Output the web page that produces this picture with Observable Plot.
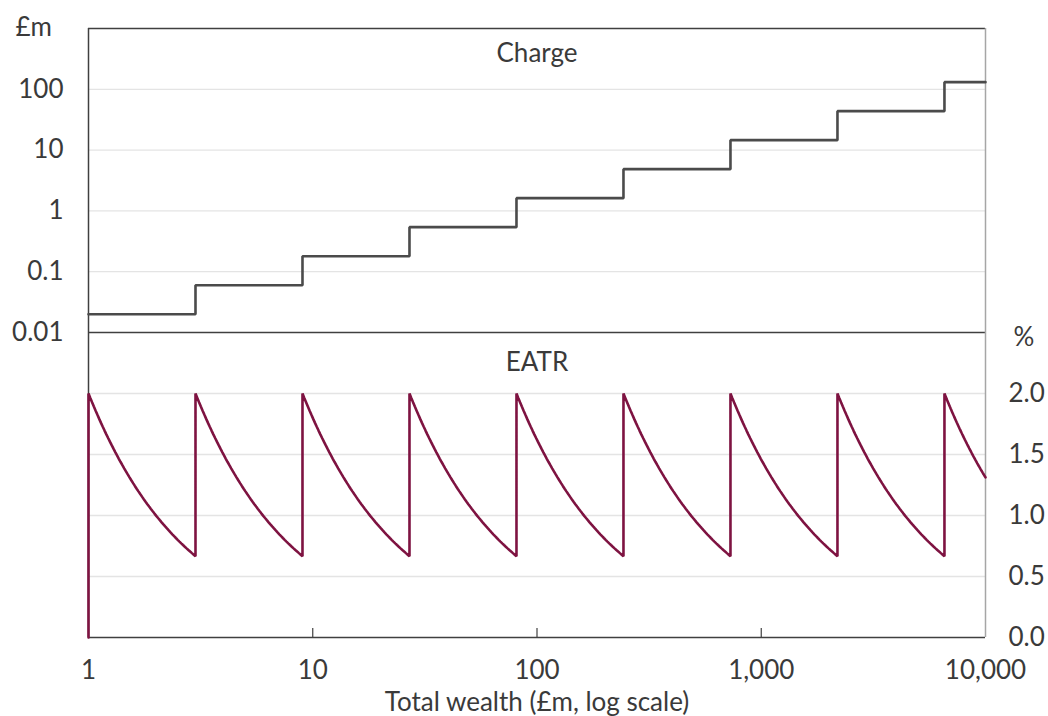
<!DOCTYPE html>
<html>
<head>
<meta charset="utf-8">
<script src="https://cdn.jsdelivr.net/npm/d3@7"></script>
<script src="https://cdn.jsdelivr.net/npm/@observablehq/plot@0.6"></script>
<style>
  html, body { margin: 0; padding: 0; background: #ffffff; }
  #chart { position: relative; width: 1048px; height: 716px; }
  #chart svg { position: absolute; left: 0; top: 0; }
</style>
</head>
<body>
<div id="chart"></div>
<script>
// Wealth bands (£m): each band starts at this wealth level
const bandFloor = [1, 3, 9, 27, 81, 243, 729, 2187, 6561];
// Annual charge (£m) payable within each band
const bandCharge = [0.02, 0.06, 0.18, 0.54, 1.62, 4.86, 14.58, 43.74, 131.22];
const wealthMax = 10000;

const xTicks = [1, 10, 100, 1000, 10000];
const chargeTicks = [0.01, 0.1, 1, 10, 100];
const chargeTickLabels = ["0.01", "0.1", "1", "10", "100"];
const eatrTicks = [0, 0.5, 1, 1.5, 2];

// Charge: flat within each band, stepping up at each band floor
const chargeRows = bandFloor.map((w, i) => ({wealth: w, charge: bandCharge[i]}));
chargeRows.push({wealth: wealthMax, charge: bandCharge[bandCharge.length - 1]});

// EATR (%) = charge ÷ wealth, traced across each band
const eatrRows = [{wealth: 1, eatr: 0}];
bandFloor.forEach((lo, i) => {
  const hi = Math.min(i + 1 < bandFloor.length ? bandFloor[i + 1] : wealthMax, wealthMax);
  const steps = 60;
  for (let k = 0; k <= steps; k++) {
    const w = lo * Math.pow(hi / lo, k / steps);
    eatrRows.push({wealth: w, eatr: bandCharge[i] / w * 100});
  }
});

const W = 1048, H = 716;
const left = 88, right = 63;
const topY = 28, midY = 332, bottomY = 637;
const ink = "#3a3a3a", grid = "#e4e4e4", frameDark = "#404040", frameLight = "#a6a6a6";
const font = {fontFamily: "Lato, 'Open Sans', sans-serif", fontSize: "26px", background: "transparent", overflow: "visible", color: ink};

// Upper panel: charge on a log scale
const chargePanel = Plot.plot({
  width: W, height: H,
  marginTop: topY, marginBottom: H - midY, marginLeft: left, marginRight: right,
  style: font,
  x: {type: "log", domain: [1, wealthMax], axis: null},
  y: {type: "log", domain: [0.01, 1000], axis: null},
  marks: [
    Plot.ruleY(chargeTicks.slice(1), {stroke: grid, strokeWidth: 1.3}),
    Plot.axisY(chargeTicks, {
      anchor: "left", tickSize: 0, tickPadding: 25,
      tickFormat: (d) => chargeTickLabels[chargeTicks.indexOf(d)], label: null, fill: ink
    }),
    Plot.ruleY([1000], {stroke: frameDark, strokeWidth: 1.5}),
    Plot.ruleY([0.01], {stroke: frameDark, strokeWidth: 1.5}),
    Plot.ruleX([1], {stroke: frameDark, strokeWidth: 1.5}),
    Plot.ruleX([wealthMax], {stroke: frameLight, strokeWidth: 1.5}),
    Plot.line(chargeRows, {x: "wealth", y: "charge", curve: "step-after",
      stroke: "#4b4b4b", strokeWidth: 2.6, strokeLinejoin: "miter"}),
    Plot.text(["Charge"], {frameAnchor: "top", dy: 25, fill: ink, lineAnchor: "middle"}),
    Plot.text(["£m"], {frameAnchor: "top-left", dx: -73, dy: -1, textAnchor: "start", fill: ink, lineAnchor: "middle"})
  ]
});

// Lower panel: effective average tax rate
const eatrPanel = Plot.plot({
  width: W, height: H,
  marginTop: midY, marginBottom: H - bottomY, marginLeft: left, marginRight: right,
  style: font,
  x: {type: "log", domain: [1, wealthMax], axis: null},
  y: {domain: [0, 2.5], axis: null},
  marks: [
    Plot.ruleY(eatrTicks.slice(1), {stroke: grid, strokeWidth: 1.3}),
    Plot.axisY(eatrTicks, {
      anchor: "right", tickSize: 0, tickPadding: 23,
      tickFormat: d3.format(".1f"), label: null, fill: ink
    }),
    Plot.axisX(xTicks, {
      anchor: "bottom", tickSize: 0, tickPadding: 23,
      tickFormat: d3.format(","), label: null, fill: ink
    }),
    Plot.tickX([10, 100, 1000], {stroke: frameDark, strokeWidth: 1.2, insetTop: (bottomY - midY) - 9}),
    Plot.ruleY([0], {stroke: frameDark, strokeWidth: 1.5}),
    Plot.ruleX([1], {stroke: frameDark, strokeWidth: 1.5}),
    Plot.ruleX([wealthMax], {stroke: frameLight, strokeWidth: 1.5}),
    Plot.line(eatrRows, {x: "wealth", y: "eatr", stroke: "#7e1341", strokeWidth: 2.6, strokeLinejoin: "miter"}),
    Plot.text(["EATR"], {frameAnchor: "top", dy: 30, fill: ink, lineAnchor: "middle"}),
    Plot.text(["%"], {frameAnchor: "top-right", dx: 28, dy: 5, textAnchor: "start", fill: ink, lineAnchor: "middle"}),
    Plot.text(["Total wealth (£m, log scale)"], {frameAnchor: "bottom", dy: 65, fill: ink, lineAnchor: "middle"})
  ]
});

document.getElementById("chart").append(chargePanel, eatrPanel);
</script>
</body>
</html>
